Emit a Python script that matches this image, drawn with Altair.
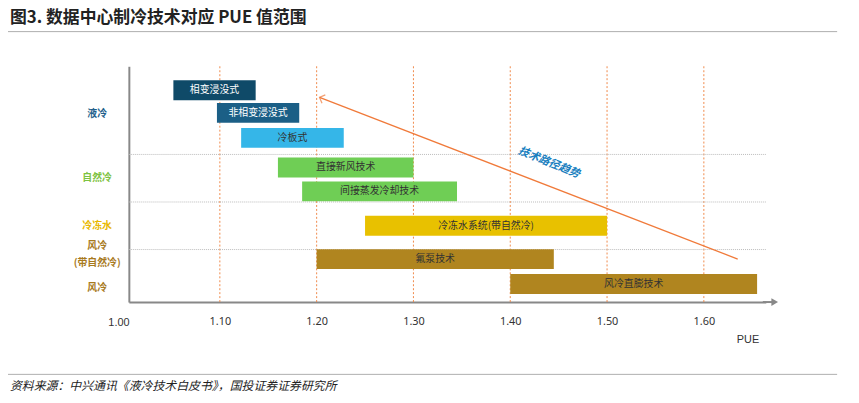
import pandas as pd
import altair as alt

# bars: name, start PUE, end PUE, row slot, color, text color
names = ['相变浸没式', '非相变浸没式', '冷板式', '直接新风技术', '间接蒸发冷却技术',
         '冷冻水系统(带自然冷)', '氟泵技术', '风冷直膨技术']
starts = [1.052, 1.097, 1.122, 1.16, 1.185, 1.25, 1.20, 1.40]
ends = [1.137, 1.182, 1.228, 1.30, 1.345, 1.50, 1.445, 1.655]
slots = [0.8, 1.75, 2.8, 4.05, 5.05, 6.5, 7.9, 8.95]
colors = ['#0f4a68', '#1b5f86', '#35b6e8', '#6fce55', '#6fce55', '#e8c100', '#b0851f', '#b0851f']
text_colors = ['white', 'white', '#333', '#333', '#333', '#333', '#333', '#333']

groups = ['液冷', '自然冷', '冷冻水', '风冷', '(带自然冷)', '风冷']
group_slots = [1.8, 4.5, 6.5, 7.35, 8.05, 9.1]
group_colors = ['#1f5f8b', '#7dc242', '#e8b800', '#a87a1e', '#a87a1e', '#a87a1e']

separators = [3.5, 5.5, 7.5]
grid_x = [1.1, 1.2, 1.3, 1.4, 1.5, 1.6]
tick_vals = [1.1, 1.2, 1.3, 1.4, 1.5, 1.6]

bars = pd.DataFrame({'name': names, 'x0': starts, 'x1': ends, 'y': slots,
                     'c': colors, 'tc': text_colors})
bars['mid'] = (bars['x0'] + bars['x1']) / 2
grp = pd.DataFrame({'g': groups, 'y': group_slots, 'c': group_colors})

xs = alt.Scale(domain=[1.006, 1.664], nice=False, zero=False)
ys = alt.Scale(domain=[0, 9.5], reverse=True, nice=False)
xaxis = alt.Axis(values=tick_vals, format='.2f', grid=False,
                 ticks=False, labelPadding=14, labelFontSize=11, labelColor='#333',
                 domainColor='#888', domainWidth=2, title=None)
yaxis = alt.Axis(labels=False, ticks=False, grid=False, domainColor='#888',
                 domainWidth=2, title=None)

base = alt.Chart(bars)

vgrid = alt.Chart(pd.DataFrame({'x': grid_x})).mark_rule(
    color='#f08a4b', strokeDash=[2, 2], strokeWidth=1).encode(
    x=alt.X('x:Q', scale=xs, axis=xaxis))
hgrid = alt.Chart(pd.DataFrame({'y': separators})).mark_rule(
    color='#bbb', strokeDash=[1, 1]).encode(
    y=alt.Y('y:Q', scale=ys, axis=yaxis), x=alt.value(0), x2=alt.value(643))

rects = base.mark_bar(height=20).encode(
    x=alt.X('x0:Q', scale=xs), x2='x1:Q',
    y=alt.Y('y:Q', scale=ys), color=alt.Color('c:N', scale=None))
labels = base.mark_text(fontSize=10, font='Noto Sans CJK SC').encode(
    x=alt.X('mid:Q', scale=xs), y=alt.Y('y:Q', scale=ys),
    text='name:N', color=alt.Color('tc:N', scale=None))

glabels = alt.Chart(grp).mark_text(fontSize=10, fontWeight='bold', font='Noto Sans CJK SC').encode(
    x=alt.value(-32), y=alt.Y('y:Q', scale=ys), text='g:N', color=alt.Color('c:N', scale=None))

# trend arrow
trend = pd.DataFrame({'x0': [1.635], 'y0': [7.9], 'x1': [1.203], 'y1': [1.1]})
tline = alt.Chart(trend).mark_rule(color='#f07a3a', strokeWidth=1.3).encode(
    x=alt.X('x0:Q', scale=xs), x2='x1:Q', y=alt.Y('y0:Q', scale=ys), y2='y1:Q')
thead = alt.Chart(trend).mark_point(shape='M -1 1 L 0 0 L 1 1', filled=False,
                                    color='#f07a3a', size=80, angle=292, strokeWidth=1.3).encode(
    x=alt.X('x1:Q', scale=xs), y=alt.Y('y1:Q', scale=ys))
ttext = alt.Chart(pd.DataFrame({'x': [1.44], 'y': [3.85], 't': ['技术路径趋势']})).mark_text(
    angle=22, fontSize=11, fontWeight='bold', fontStyle='italic', color='#1a7fc0',
    font='Noto Sans CJK SC').encode(
    x=alt.X('x:Q', scale=xs), y=alt.Y('y:Q', scale=ys), text='t:N')

# axis arrow and decorations
axarrow = alt.Chart(pd.DataFrame({'a': [0]})).mark_rule(color='#888', strokeWidth=2).encode(
    x=alt.value(640), x2=alt.value(650), y=alt.value(238))
axhead = alt.Chart(pd.DataFrame({'a': [0]})).mark_point(
    shape='triangle-right', filled=True, color='#888', size=60, opacity=1).encode(
    x=alt.value(652), y=alt.value(238))
origin = alt.Chart(pd.DataFrame({'t': ['1.00']})).mark_text(fontSize=11, color='#333').encode(
    x=alt.value(-10), y=alt.value(259), text='t:N')
pue = alt.Chart(pd.DataFrame({'t': ['PUE']})).mark_text(fontSize=11, color='#333').encode(
    x=alt.value(625), y=alt.value(276), text='t:N')
title = alt.Chart(pd.DataFrame({'t': ['图3. 数据中心制冷技术对应 PUE 值范围']})).mark_text(
    fontSize=17, fontWeight='bold', align='left', color='#222', font='Noto Sans CJK SC').encode(
    x=alt.value(-120), y=alt.value(-49), text='t:N')
footer = alt.Chart(pd.DataFrame({'t': ['资料来源：中兴通讯《液冷技术白皮书》，国投证券证券研究所']})).mark_text(
    fontSize=12, fontStyle='italic', align='left', color='#222', font='Noto Sans CJK SC').encode(
    x=alt.value(-120), y=alt.value(323), text='t:N')
topline = alt.Chart(pd.DataFrame({'a': [0]})).mark_rule(color='#999', strokeWidth=0.8).encode(
    x=alt.value(-122), x2=alt.value(715), y=alt.value(-35))
botline = alt.Chart(pd.DataFrame({'a': [0]})).mark_rule(color='#999', strokeWidth=0.8).encode(
    x=alt.value(-122), x2=alt.value(715), y=alt.value(311))

chart = alt.layer(vgrid, hgrid, rects, labels, glabels, tline, thead, ttext,
                  axarrow, axhead, origin, pue, title, footer, topline, botline).properties(
    width=643, height=238, autosize='none',
    padding={'left': 122, 'top': 57, 'right': 86, 'bottom': 92}
).configure_view(stroke=None).configure_axis(labelFont='Noto Sans')

chart.save("out.html", embed_options={"renderer": "svg", "actions": False})
